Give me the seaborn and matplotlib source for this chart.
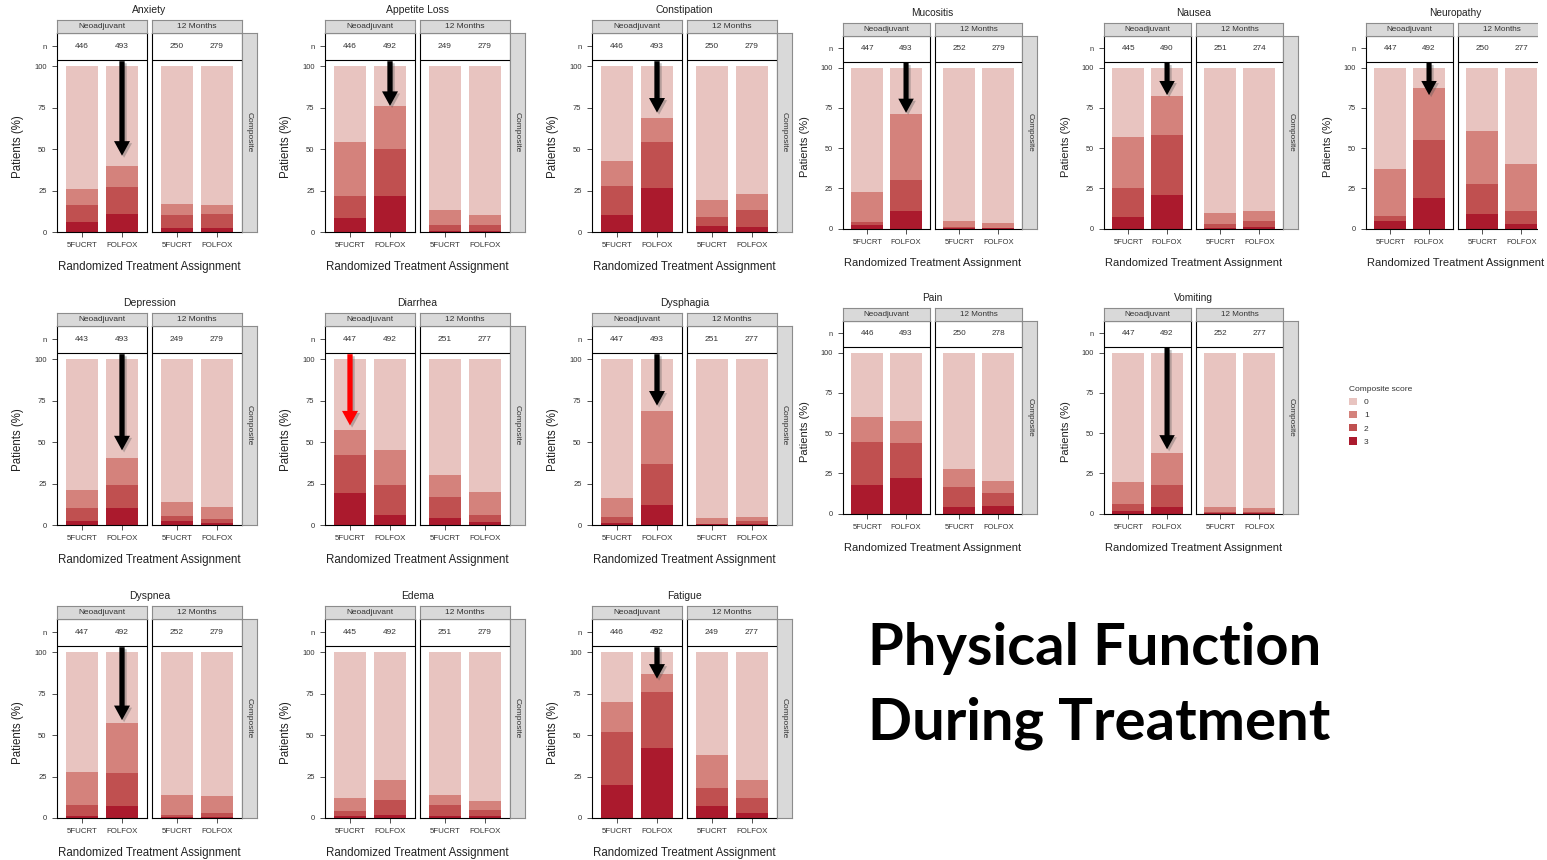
import numpy as np
import pandas as pd
import matplotlib
matplotlib.use("Agg")
import matplotlib.pyplot as plt
import seaborn as sns
from matplotlib.patches import FancyArrowPatch, Patch, Rectangle
import matplotlib.patheffects as pe

# ---------------- data ----------------
symptoms = ["Anxiety", "Appetite Loss", "Constipation", "Mucositis", "Nausea", "Neuropathy",
            "Depression", "Diarrhea", "Dysphagia", "Pain", "Vomiting",
            "Dyspnea", "Edema", "Fatigue"]
periods = ["Neoadjuvant", "12 Months"]
arms = ["5FUCRT", "FOLFOX"]
score_labels = ["0", "1", "2", "3"]

# order per symptom: Neo-5FUCRT, Neo-FOLFOX, 12M-5FUCRT, 12M-FOLFOX
n_patients = [446, 493, 250, 279,   # Anxiety
              446, 492, 249, 279,   # Appetite Loss
              446, 493, 250, 279,   # Constipation
              447, 493, 252, 279,   # Mucositis
              445, 490, 251, 274,   # Nausea
              447, 492, 250, 277,   # Neuropathy
              443, 493, 249, 279,   # Depression
              447, 492, 251, 277,   # Diarrhea
              447, 493, 251, 277,   # Dysphagia
              446, 493, 250, 278,   # Pain
              447, 492, 252, 277,   # Vomiting
              447, 492, 252, 279,   # Dyspnea
              445, 492, 251, 279,   # Edema
              446, 492, 249, 277]   # Fatigue

pct_score3 = [6, 11, 2.5, 2.5,
              8.5, 22, 0.5, 0.5,
              10, 26.5, 3.5, 3,
              2.5, 11, 0.4, 0.3,
              7.5, 21, 0.5, 1,
              5, 19, 9, 3,
              2.5, 10, 2.5, 1.5,
              19.5, 6, 4.5, 2,
              1.5, 12, 0.4, 0.5,
              18, 22, 4, 5,
              1.5, 4, 0.3, 0.3,
              1, 7, 0.5, 0.5,
              1, 2, 1.5, 1.5,
              20, 42, 7, 3]
pct_score2 = [10, 16, 7.5, 8.5,
              13.5, 28, 3.5, 4,
              18, 27.5, 5.5, 10,
              1.5, 19, 0.4, 0.3,
              18, 37.5, 2.5, 3.5,
              3, 36, 19, 8,
              8, 14, 3, 2,
              23, 18, 12.5, 4,
              3.5, 25, 0.3, 2,
              26.5, 22, 12.5, 8,
              4.5, 13.5, 0.7, 0.7,
              7, 20, 1.5, 2.5,
              3, 9, 6.5, 3.5,
              32, 34, 11, 9]
pct_score1 = [10, 13, 7, 5,
              32, 26, 9, 6,
              15, 15, 10.5, 10,
              19, 41, 4.2, 2.9,
              31.5, 24, 7, 6.5,
              29, 32.5, 33, 29,
              10.5, 16.5, 8.5, 7.5,
              14.5, 21, 13, 14,
              11.5, 32, 3.8, 2.5,
              15.5, 13.5, 11, 7,
              13.5, 20.5, 3, 2.5,
              20, 30, 12, 10,
              8, 12, 6, 5,
              18, 11, 20, 11]
pct_score0 = [74, 60, 83, 84,
              46, 24, 87, 89.5,
              57, 31, 80.5, 77,
              77, 29, 95, 96.5,
              43, 17.5, 90, 89,
              63, 12.5, 39, 60,
              79, 59.5, 86, 89,
              43, 55, 70, 80,
              83.5, 31, 95.5, 95,
              40, 42.5, 72.5, 80,
              80.5, 62, 96, 96.5,
              72, 43, 86, 87,
              88, 77, 86, 90,
              30, 13, 62, 77]

# highlighted changes (arrow drawn over one Neoadjuvant bar)
arrow_symptoms = ["Anxiety", "Appetite Loss", "Constipation", "Mucositis", "Nausea", "Neuropathy",
                  "Depression", "Diarrhea", "Dysphagia", "Vomiting", "Dyspnea", "Fatigue"]
arrow_arms = ["FOLFOX", "FOLFOX", "FOLFOX", "FOLFOX", "FOLFOX", "FOLFOX",
              "FOLFOX", "5FUCRT", "FOLFOX", "FOLFOX", "FOLFOX", "FOLFOX"]
arrow_tips = [46, 76, 72, 72, 83, 83, 45, 60, 72, 40, 59, 84]
arrow_colors = ["black"] * 7 + ["#ff0000"] + ["black"] * 4

score_colors = {"0": "#e8c4c0", "1": "#d4827c", "2": "#c05050", "3": "#ab1a2d"}

rows = []
for i, s in enumerate(symptoms):
    for j, p in enumerate(periods):
        for k, a in enumerate(arms):
            idx = i * 4 + j * 2 + k
            rows.append(dict(symptom=s, period=p, arm=a, n=n_patients[idx],
                             s0=pct_score0[idx], s1=pct_score1[idx],
                             s2=pct_score2[idx], s3=pct_score3[idx]))
df = pd.DataFrame(rows)
df["top3"] = df["s3"]
df["top2"] = df["s3"] + df["s2"]
df["top1"] = df["s3"] + df["s2"] + df["s1"]
df["top0"] = df["top1"] + df["s0"]

# ---------------- style ----------------
sns.set_style("ticks")
plt.rcParams["font.family"] = ["Liberation Sans", "DejaVu Sans"]

W, H = 1547, 860
fig = plt.figure(figsize=(W / 100, H / 100), dpi=100)


def px_axes(x, y, w, h):
    return fig.add_axes([x / W, 1 - (y + h) / H, w / W, h / H])


STRIP_FC = "#d9d9d9"
STRIP_EC = "#8c8c8c"
TXT = "#333333"

# panel layout: (x of left facet, y of strip top, scale)
layout = {
    "Anxiety": (57, 20, 1.0), "Appetite Loss": (325, 20, 1.0), "Constipation": (592, 20, 1.0),
    "Mucositis": (843, 23, 0.97), "Nausea": (1104, 23, 0.97), "Neuropathy": (1366, 23, 0.97),
    "Depression": (57, 313, 1.0), "Diarrhea": (325, 313, 1.0), "Dysphagia": (592, 313, 1.0),
    "Pain": (843, 308, 0.97), "Vomiting": (1104, 308, 0.97),
    "Dyspnea": (57, 606, 1.0), "Edema": (325, 606, 1.0), "Fatigue": (592, 606, 1.0),
}
# the source picture is cropped at the right edge, hiding this panel's side strip
cropped_panels = ["Neuropathy"]


def draw_panel(sym, x0, y0, s):
    strip_h = 13 * s
    fw = 90 * s
    gap = 5 * s
    comp_w = 15 * s
    box_top = y0 + strip_h
    box_h = 199 * s
    sub = df[df.symptom == sym]
    for j, p in enumerate(periods):
        d = sub[sub.period == p]
        fx = x0 + j * (fw + gap)
        ax = px_axes(fx, box_top, fw, box_h)
        for lev in ["0", "1", "2", "3"]:
            sns.barplot(data=d, x="arm", y="top" + lev, order=arms, color=score_colors[lev],
                        saturation=1, width=0.82, errorbar=None, linewidth=0, ax=ax)
        ax.set_xlim(-0.625, 1.625)
        ax.set_ylim(0, 120)
        ax.set_xlabel("")
        ax.set_ylabel("")
        ax.axhline(103.7, color="black", lw=0.8, zorder=5)
        for k, a in enumerate(arms):
            nval = int(d[d.arm == a]["n"].iloc[0])
            ax.text(k, 112, str(nval), ha="center", va="center", fontsize=6 * s, color=TXT)
        for sp in ax.spines.values():
            sp.set_visible(True)
            sp.set_color("black")
            sp.set_linewidth(0.8)
        ax.set_xticks([0, 1])
        ax.set_xticklabels(arms)
        ax.tick_params(axis="x", length=3.5 * s, width=0.6, color="#333333", pad=4 * s,
                       labelsize=5.7 * s, labelcolor=TXT)
        if j == 0:
            ax.set_yticks([0, 25, 50, 75, 100, 112])
            ax.set_yticklabels(["0", "25", "50", "75", "100", "n"])
            ax.tick_params(axis="y", length=3.5 * s, width=0.6, color="#333333", pad=4 * s,
                           labelsize=5.5 * s, labelcolor=TXT)
        else:
            ax.set_yticks([])
        ax.set_facecolor("white")

        # arrows
        if j == 0 and sym in arrow_symptoms:
            ai = arrow_symptoms.index(sym)
            xa = arms.index(arrow_arms[ai])
            arr = FancyArrowPatch((xa, 103), (xa, arrow_tips[ai]),
                                  arrowstyle="simple,head_length=10.5,head_width=11.5,tail_width=3.8",
                                  mutation_scale=s, color=arrow_colors[ai], lw=0, zorder=10,
                                  shrinkA=0, shrinkB=0, clip_on=False)
            arr.set_path_effects([pe.SimplePatchShadow(offset=(1.5, -1.5), alpha=0.35,
                                                       shadow_rgbFace="#555555"), pe.Normal()])
            ax.add_patch(arr)

        # strip on top
        sa = px_axes(fx, y0, fw, strip_h)
        sa.set_facecolor(STRIP_FC)
        sa.set_xticks([])
        sa.set_yticks([])
        for sp in sa.spines.values():
            sp.set_color(STRIP_EC)
            sp.set_linewidth(0.8)
        sa.text(0.5, 0.5, p, ha="center", va="center", fontsize=6 * s, color=TXT,
                transform=sa.transAxes)

    # right strip
    if sym not in cropped_panels:
        ca = px_axes(x0 + 2 * fw + gap, box_top, comp_w, box_h)
        ca.set_facecolor(STRIP_FC)
        ca.set_xticks([])
        ca.set_yticks([])
        for sp in ca.spines.values():
            sp.set_color(STRIP_EC)
            sp.set_linewidth(0.8)
        ca.text(0.5, 0.5, "Composite", rotation=270, ha="center", va="center",
                fontsize=6 * s, color=TXT, transform=ca.transAxes)

    cx = x0 + (2 * fw + gap) / 2
    fig.text(cx / W, 1 - (y0 - 10 * s) / H, sym, ha="center", va="center",
             fontsize=7.5 * s, color="#222222")
    fig.text(cx / W, 1 - (y0 + 247 * s) / H, "Randomized Treatment Assignment",
             ha="center", va="center", fontsize=8.3 * s, color="#222222")
    fig.text((x0 - 39 * s) / W, 1 - (y0 + 127 * s) / H, "Patients (%)", rotation=90,
             ha="center", va="center", fontsize=8.3 * s, color="#222222")


for sym in symptoms:
    x0, y0, s = layout[sym]
    draw_panel(sym, x0, y0, s)

# white crop band at the right edge of the top row (as in the source picture)
fig.add_artist(Rectangle((1538 / W, 1 - 240 / H), (W - 1538) / W, 240 / H,
                         transform=fig.transFigure, facecolor="white", edgecolor="none",
                         zorder=50))

# legend
handles = [Patch(facecolor=score_colors[l], edgecolor="none", label=l) for l in score_labels]
leg = fig.legend(handles=handles, title="Composite score", loc="upper left",
                 bbox_to_anchor=(1349 / W, 1 - 386 / H), frameon=False, fontsize=6,
                 title_fontsize=6, handlelength=1.0, handleheight=1.0, labelspacing=0.55,
                 handletextpad=0.8, borderaxespad=0, borderpad=0)
leg._legend_box.align = "left"
for t in leg.get_texts():
    t.set_color(TXT)
leg.get_title().set_color(TXT)

# big annotation text
t1 = fig.text(868 / W, 1 - 665 / H, "Physical Function", fontsize=40, fontweight="bold",
              family=["Lato", "DejaVu Sans"], ha="left", va="baseline", color="black")
t2 = fig.text(868 / W, 1 - 740 / H, "During Treatment", fontsize=40, fontweight="bold",
              family=["Lato", "DejaVu Sans"], ha="left", va="baseline", color="black")
fig.canvas.draw()
wpx = t1.get_window_extent(renderer=fig.canvas.get_renderer()).width
fs = 40 * 454 / wpx
t1.set_fontsize(fs)
t2.set_fontsize(fs)

fig.savefig("out.png", dpi=100)
